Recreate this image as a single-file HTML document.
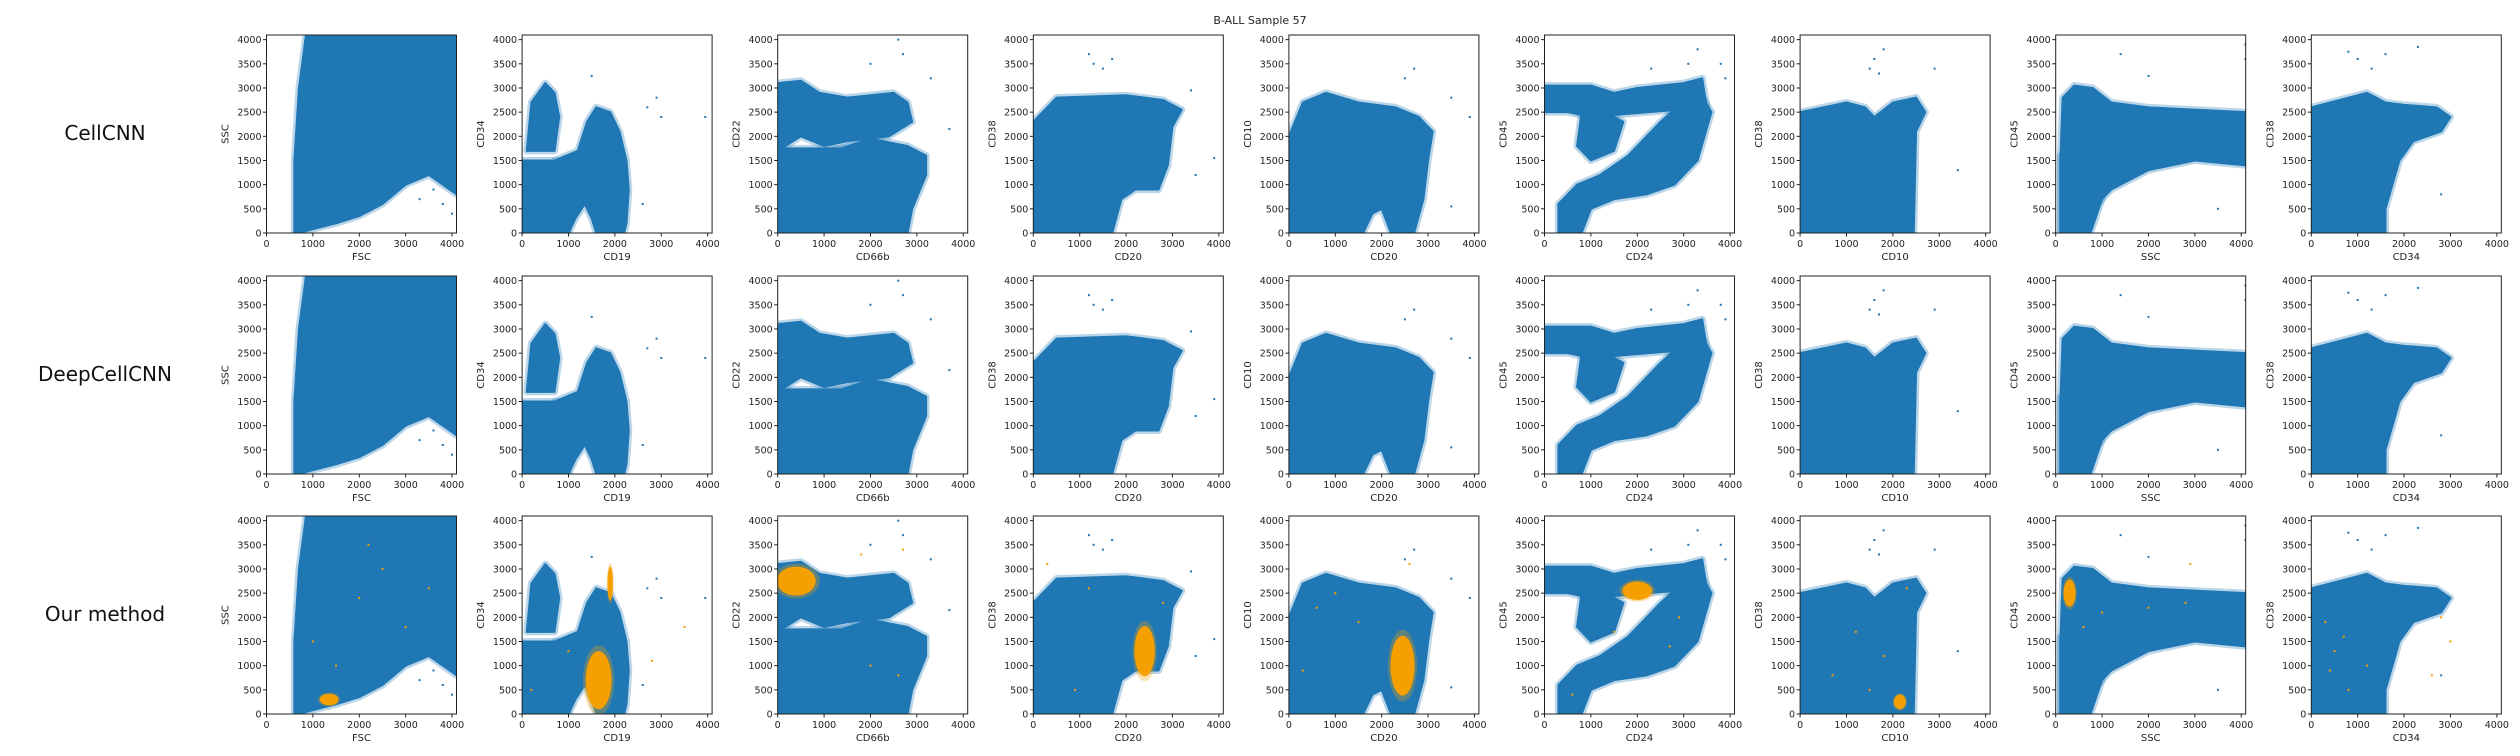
<!DOCTYPE html>
<html><head><meta charset="utf-8"><style>
html,body{margin:0;padding:0;background:#fff;}
svg{display:block;font-family:"DejaVu Sans","Liberation Sans",sans-serif;}
</style></head><body>
<svg id="fig" width="2520" height="756" viewBox="0 0 2520 756" xmlns="http://www.w3.org/2000/svg">
<text x="1260" y="24" text-anchor="middle" font-size="11" fill="#222">B-ALL Sample 57</text>
<text x="105" y="140" text-anchor="middle" font-size="20" fill="#111">CellCNN</text>
<text x="105" y="381" text-anchor="middle" font-size="20" fill="#111">DeepCellCNN</text>
<text x="105" y="621" text-anchor="middle" font-size="20" fill="#111">Our method</text>
</svg>
<script>
// ---- data (marker values, data space 0..4096) ----
const xLabels = ["FSC","CD19","CD66b","CD20","CD20","CD24","CD10","SSC","CD34"];
const yLabels = ["SSC","CD34","CD22","CD38","CD10","CD45","CD38","CD45","CD38"];
const xTicks = [0,1000,2000,3000,4000];
const yTicks = [0,500,1000,1500,2000,2500,3000,3500,4000];
const rowNames = ["cellcnn","deepcellcnn","our-method"];
// blue population outlines per column (list of polygons, [x,y] pairs)
const bluePolys = [
 [[[600,0],[600,1500],[700,3000],[850,4096],[4096,4096],[4096,800],[3500,1200],[3000,1000],[2500,600],[2000,350],[1500,200],[1000,80],[700,0]]],
 [[[0,0],[0,1500],[1000,1500],[1000,0]],
  [[700,1500],[1200,1700],[1400,2300],[1600,2600],[1900,2500],[2100,2100],[2250,1500],[2300,900],[2250,200],[2200,0],[1600,0],[1500,300],[1350,600],[1150,300],[1000,0],[900,1500]],
  [[100,1700],[200,2700],[500,3100],[700,2900],[800,2400],[700,1700]]],
 [[[0,1700],[0,3100],[500,3150],[900,2900],[1500,2800],[2500,2900],[2800,2700],[2900,2300],[2400,2000],[1500,1900],[1000,1800],[500,2000]],
  [[0,0],[0,1750],[2700,1750],[2700,0]],
  [[600,1700],[1200,1700],[2000,1950],[2800,1800],[3200,1600],[3200,1200],[2900,500],[2800,0],[2500,0],[2500,1600]]],
 [[[0,0],[0,2300],[500,2800],[2000,2850],[2800,2750],[3200,2550],[3000,2200],[2900,1400],[2700,900],[2200,900],[1900,700],[1700,0]]],
 [[[0,0],[0,2000],[300,2700],[800,2900],[1500,2700],[2300,2600],[2800,2400],[3100,2100],[3000,1500],[2900,700],[2700,0],[2200,0],[2000,500],[1800,400],[1600,0]]],
 [[[0,2500],[0,3050],[1000,3050],[1500,2900],[2000,3000],[3000,3100],[3400,3200],[3500,2600],[1000,2400],[500,2500]],
  [[700,1800],[800,2500],[1200,2550],[1700,2300],[1500,1700],[1000,1500]],
  [[300,0],[300,600],[700,1000],[1200,1200],[1800,1600],[2500,2300],[3300,3000],[3600,2500],[3300,1500],[2800,1000],[2200,800],[1500,700],[1000,500],[800,0]]],
 [[[0,0],[0,2500],[500,2600],[1000,2700],[1400,2600],[1600,2400],[2000,2700],[2500,2800],[2700,2500],[2500,2100],[2450,0]]],
 [[[100,0],[100,1500],[150,2800],[400,3050],[800,3000],[1200,2700],[2000,2600],[4096,2500],[4096,1400],[3000,1500],[2000,1300],[1200,900],[800,500],[500,0]],
  [[100,0],[100,1600],[1000,1600],[1000,700],[750,0]]],
 [[[0,0],[0,2600],[600,2750],[1200,2900],[1600,2700],[2000,2650],[2700,2600],[3000,2400],[2800,2100],[2200,1900],[1900,1500],[1600,500],[1600,0]]]
];
// sparse blue outliers per column
const blueDots = [
 [[3800,600],[3600,900],[3300,700],[4000,400]],
 [[2900,2800],[3000,2400],[3950,2400],[2700,2600],[1500,3250],[2600,600]],
 [[2600,4000],[2700,3700],[3300,3200],[3700,2150],[2000,3500]],
 [[1300,3500],[1200,3700],[1500,3400],[1700,3600],[3500,1200],[3900,1550],[3400,2950]],
 [[2700,3400],[2500,3200],[3500,2800],[3900,2400],[3500,550]],
 [[3300,3800],[3800,3500],[2300,3400],[3100,3500],[3900,3200]],
 [[1600,3600],[1700,3300],[1800,3800],[1500,3400],[2900,3400],[3400,1300]],
 [[1400,3700],[2000,3250],[3500,500],[4090,3600],[4090,3900]],
 [[1000,3600],[800,3750],[1300,3400],[1600,3700],[2300,3850],[2800,800]]
];
// orange (selected cells) clusters in "Our method" row: [cx, cy, rx, ry]
const orangeClusters = [
 [[1350,300,200,120]],
 [[1650,700,280,600],[1900,2700,60,350]],
 [[400,2750,420,300]],
 [[2400,1300,220,520]],
 [[2450,1000,260,620]],
 [[2000,2550,320,190]],
 [[2150,250,130,150]],
 [[300,2500,130,280]],
 []
];
const orangeDots = [
 [[2000,2400],[2500,3000],[3000,1800],[1500,1000],[2200,3500],[3500,2600],[1000,1500]],
 [[3500,1800],[2800,1100],[200,500],[1000,1300]],
 [[2000,1000],[2600,800],[1800,3300],[2700,3400]],
 [[300,3100],[900,500],[1200,2600],[2800,2300]],
 [[600,2200],[1000,2500],[1500,1900],[300,900],[2600,3100]],
 [[1500,1700],[2700,1400],[600,400],[2900,2000]],
 [[1200,1700],[1800,1200],[700,800],[1500,500],[2300,2600]],
 [[1000,2100],[2000,2200],[2800,2300],[600,1800],[2900,3100]],
 [[2800,2000],[3000,1500],[2600,800],[1200,1000],[300,1900],[500,1300],[700,1600],[400,900],[800,500]]
];
// ---- layout ----
const NS="http://www.w3.org/2000/svg";
const svg=document.getElementById('fig');
const colLeft0=266.5, colStep=255.6, axW=190, axH=198;
const rowTops=[35,276,516];
const MAXV=4096;
const BLUE="#1f77b4", ORANGE="#f5a000";
function mk(tag,attrs,parent){const e=document.createElementNS(NS,tag);for(const k in attrs)e.setAttribute(k,attrs[k]);(parent||svg).appendChild(e);return e;}
for(let r=0;r<3;r++){
 for(let c=0;c<9;c++){
  const L=colLeft0+c*colStep, T=rowTops[r], B=T+axH;
  const sx=v=>L+v/MAXV*axW, sy=v=>B-v/MAXV*axH;
  const g=mk('g',{});
  
  
  const cp=mk('clipPath',{id:'cp'+r+'_'+c},g);
  mk('rect',{x:L,y:T,width:axW,height:axH},cp);
  const plot=mk('g',{'clip-path':'url(#cp'+r+'_'+c+')'},g);
  bluePolys[c].forEach(poly=>{
    const pts=poly.map(q=>sx(q[0])+','+sy(q[1])).join(' ');
    mk('polygon',{points:pts,fill:'none',stroke:BLUE,'stroke-width':7,'stroke-linejoin':'round',opacity:0.3},plot);
  });
  bluePolys[c].forEach(poly=>{
    const pts=poly.map(q=>sx(q[0])+','+sy(q[1])).join(' ');
    const p=mk('polygon',{points:pts,fill:BLUE,stroke:BLUE,'stroke-width':2,'stroke-linejoin':'round'},plot);
    
    
  });
  blueDots[c].forEach(d=>{
    const e=mk('rect',{x:sx(d[0])-1,y:sy(d[1])-1,width:2,height:2,fill:BLUE},plot);
    
    
  });
  if(r===2){
    orangeClusters[c].forEach(o=>{
      mk('ellipse',{cx:sx(o[0]),cy:sy(o[1]),rx:o[2]/MAXV*axW*1.2,ry:o[3]/MAXV*axH*1.2,fill:ORANGE,opacity:0.3},plot);
      const e=mk('ellipse',{cx:sx(o[0]),cy:sy(o[1]),rx:o[2]/MAXV*axW,ry:o[3]/MAXV*axH,fill:ORANGE},plot);
      
      
    });
    orangeDots[c].forEach(d=>{
      const e=mk('rect',{x:sx(d[0])-1,y:sy(d[1])-1,width:2,height:2,fill:ORANGE},plot);
      
      
    });
  }
  const fr=mk('rect',{x:L,y:T,width:axW,height:axH,fill:'none',stroke:'#222','stroke-width':1},g);
  
  
  xTicks.forEach(t=>{
    mk('line',{x1:sx(t),x2:sx(t),y1:B,y2:B+3.5,stroke:'#222'},g);
    const tx=mk('text',{x:sx(t),y:B+14,'text-anchor':'middle','font-size':9.5,fill:'#222'},g);
    tx.textContent=t;
    
    
  });
  yTicks.forEach(t=>{
    mk('line',{x1:L-3.5,x2:L,y1:sy(t),y2:sy(t),stroke:'#222'},g);
    const tx=mk('text',{x:L-5,y:sy(t)+3.5,'text-anchor':'end','font-size':9.5,fill:'#222'},g);
    tx.textContent=t;
    
    
  });
  const xl=mk('text',{x:L+axW/2,y:B+27,'text-anchor':'middle','font-size':10,fill:'#222'},g);
  xl.textContent=xLabels[c];
  
  
  const yx=L-38, yy=T+axH/2;
  const yl=mk('text',{x:yx,y:yy,'text-anchor':'middle','font-size':10,fill:'#222',transform:'rotate(-90 '+yx+' '+yy+')'},g);
  yl.textContent=yLabels[c];
  
  
 }
}
</script>
</body></html>
